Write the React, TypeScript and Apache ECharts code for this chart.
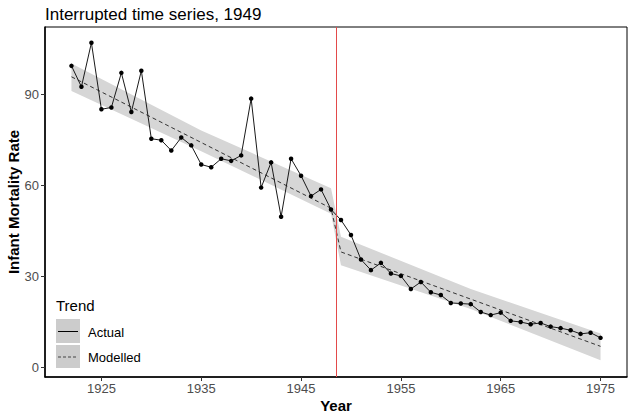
import React, { useEffect, useRef } from "react";
import * as echarts from "echarts";

const FONT = "Liberation Sans, Arial, sans-serif";

const titleText = "Interrupted time series, 1949";
const xAxisTitle = "Year";
const yAxisTitle = "Infant Mortality Rate";
const legendTitle = "Trend";
const legendLabels = ["Actual", "Modelled"];

const years = [
  1922, 1923, 1924, 1925, 1926, 1927, 1928, 1929, 1930, 1931,
  1932, 1933, 1934, 1935, 1936, 1937, 1938, 1939, 1940, 1941,
  1942, 1943, 1944, 1945, 1946, 1947, 1948, 1949, 1950, 1951,
  1952, 1953, 1954, 1955, 1956, 1957, 1958, 1959, 1960, 1961,
  1962, 1963, 1964, 1965, 1966, 1967, 1968, 1969, 1970, 1971,
  1972, 1973, 1974, 1975,
];
const actual = [
  99.3, 92.4, 106.9, 85.0, 85.6, 97.0, 84.1, 97.7, 75.3, 74.8,
  71.4, 75.7, 73.1, 66.8, 65.9, 68.7, 68.0, 69.8, 88.5, 59.2,
  67.5, 49.6, 68.7, 63.1, 56.4, 58.6, 52.0, 48.5, 43.6, 35.5,
  32.0, 34.4, 30.9, 30.1, 25.8, 28.1, 24.7, 23.8, 21.2, 21.0,
  20.8, 18.2, 17.2, 18.0, 15.3, 14.9, 14.2, 14.6, 13.4, 12.9,
  12.2, 11.0, 11.4, 9.7,
];

const modelYears = [1922, 1948, 1949, 1975];
const modelled = [95.7, 52.4, 38.0, 6.9];

const bandYears = [1922, 1935, 1948, 1949, 1962, 1975];
const bandLower = [91.0, 71.2, 50.6, 33.6, 19.2, 2.3];
const bandUpper = [100.1, 78.0, 59.0, 43.0, 25.8, 11.1];

const breakYear = 1948.5;

const xTicks = [1925, 1935, 1945, 1955, 1965, 1975];
const yTicks = [0, 30, 60, 90];

export default function App() {
  const ref = useRef<HTMLDivElement>(null);

  useEffect(() => {
    if (!ref.current) return;
    const chart = echarts.init(ref.current, null, { renderer: "svg" });

    const option: any = {
      animation: false,
      backgroundColor: "#ffffff",
      textStyle: { fontFamily: FONT },
      title: {
        text: titleText,
        left: 40,
        top: 1,
        textStyle: { fontFamily: FONT, fontSize: 17, fontWeight: "normal", color: "#000" },
      },
      grid: {
        left: 45,
        right: 2,
        top: 27,
        bottom: 39,
        containLabel: false,
        outerBoundsMode: "none",
        show: true,
        borderColor: "#000",
        borderWidth: 1,
        backgroundColor: "#fff",
      },
      xAxis: {
        type: "value",
        min: 1919.35,
        max: 1977.65,
        axisLine: { show: true, onZero: false, lineStyle: { color: "#000", width: 1.5 } },
        axisTick: { show: true, length: 4, lineStyle: { color: "#333" }, customValues: xTicks },
        axisLabel: {
          customValues: xTicks,
          formatter: (v: number) => String(v),
          color: "#4d4d4d",
          fontSize: 13,
          margin: 5,
          fontFamily: FONT,
        },
        splitLine: { show: false },
      },
      yAxis: {
        type: "value",
        min: -3.2,
        max: 112.1,
        axisLine: { show: true, onZero: false, lineStyle: { color: "#000", width: 1.5 } },
        axisTick: { show: true, length: 4, lineStyle: { color: "#333" }, customValues: yTicks },
        axisLabel: {
          customValues: yTicks,
          formatter: (v: number) => String(v),
          color: "#4d4d4d",
          fontSize: 13,
          margin: 6,
          fontFamily: FONT,
        },
        splitLine: { show: false },
      },
      series: [
        {
          type: "custom",
          silent: true,
          z: 1,
          data: [[1948, 50]],
          renderItem: (_params: any, api: any) => {
            const pts: number[][] = [];
            for (let i = 0; i < bandYears.length; i++) pts.push(api.coord([bandYears[i], bandUpper[i]]));
            for (let i = bandYears.length - 1; i >= 0; i--) pts.push(api.coord([bandYears[i], bandLower[i]]));
            return { type: "polygon", shape: { points: pts }, style: { fill: "#d6d6d6" } };
          },
        },
        {
          type: "line",
          name: "Modelled",
          z: 2,
          symbol: "none",
          data: modelYears.map((y, i) => [y, modelled[i]]),
          lineStyle: { color: "#333", width: 1, type: [4, 3] },
        },
        {
          type: "line",
          name: "Actual",
          z: 3,
          symbol: "circle",
          symbolSize: 4.5,
          data: years.map((y, i) => [y, actual[i]]),
          itemStyle: { color: "#000" },
          lineStyle: { color: "#1a1a1a", width: 1 },
          markLine: {
            silent: true,
            symbol: "none",
            label: { show: false },
            lineStyle: { color: "#e34a4a", width: 1, type: "solid" },
            data: [{ xAxis: breakYear }],
          },
        },
      ],
      graphic: [
        {
          type: "text",
          x: 336,
          y: 405,
          style: {
            text: xAxisTitle,
            fontSize: 15,
            fontWeight: "bold",
            fontFamily: FONT,
            fill: "#000",
            align: "center",
            verticalAlign: "middle",
          },
        },
        {
          type: "text",
          x: 13,
          y: 202,
          rotation: Math.PI / 2,
          style: {
            text: yAxisTitle,
            fontSize: 15,
            fontWeight: "bold",
            fontFamily: FONT,
            fill: "#000",
            align: "center",
            verticalAlign: "middle",
          },
        },
        {
          type: "text",
          x: 56,
          y: 305,
          style: { text: legendTitle, fontSize: 15, fontFamily: FONT, fill: "#000", verticalAlign: "middle" },
        },
        { type: "rect", shape: { x: 56, y: 319, width: 24, height: 24 }, style: { fill: "#cccccc" } },
        { type: "rect", shape: { x: 56, y: 345, width: 24, height: 23 }, style: { fill: "#cccccc" } },
        { type: "line", shape: { x1: 58, y1: 331.5, x2: 78, y2: 331.5 }, style: { stroke: "#000", lineWidth: 1 } },
        {
          type: "line",
          shape: { x1: 58, y1: 357, x2: 78, y2: 357 },
          style: { stroke: "#444", lineWidth: 1, lineDash: [3, 2] },
        },
        {
          type: "text",
          x: 88,
          y: 332,
          style: { text: legendLabels[0], fontSize: 13, fontFamily: FONT, fill: "#000", verticalAlign: "middle" },
        },
        {
          type: "text",
          x: 88,
          y: 357.5,
          style: { text: legendLabels[1], fontSize: 13, fontFamily: FONT, fill: "#000", verticalAlign: "middle" },
        },
      ],
    };

    chart.setOption(option);
    return () => chart.dispose();
  }, []);

  return (
    <div
      ref={ref}
      style={{ position: "absolute", left: 0, top: 0, width: 629, height: 416 }}
    />
  );
}
